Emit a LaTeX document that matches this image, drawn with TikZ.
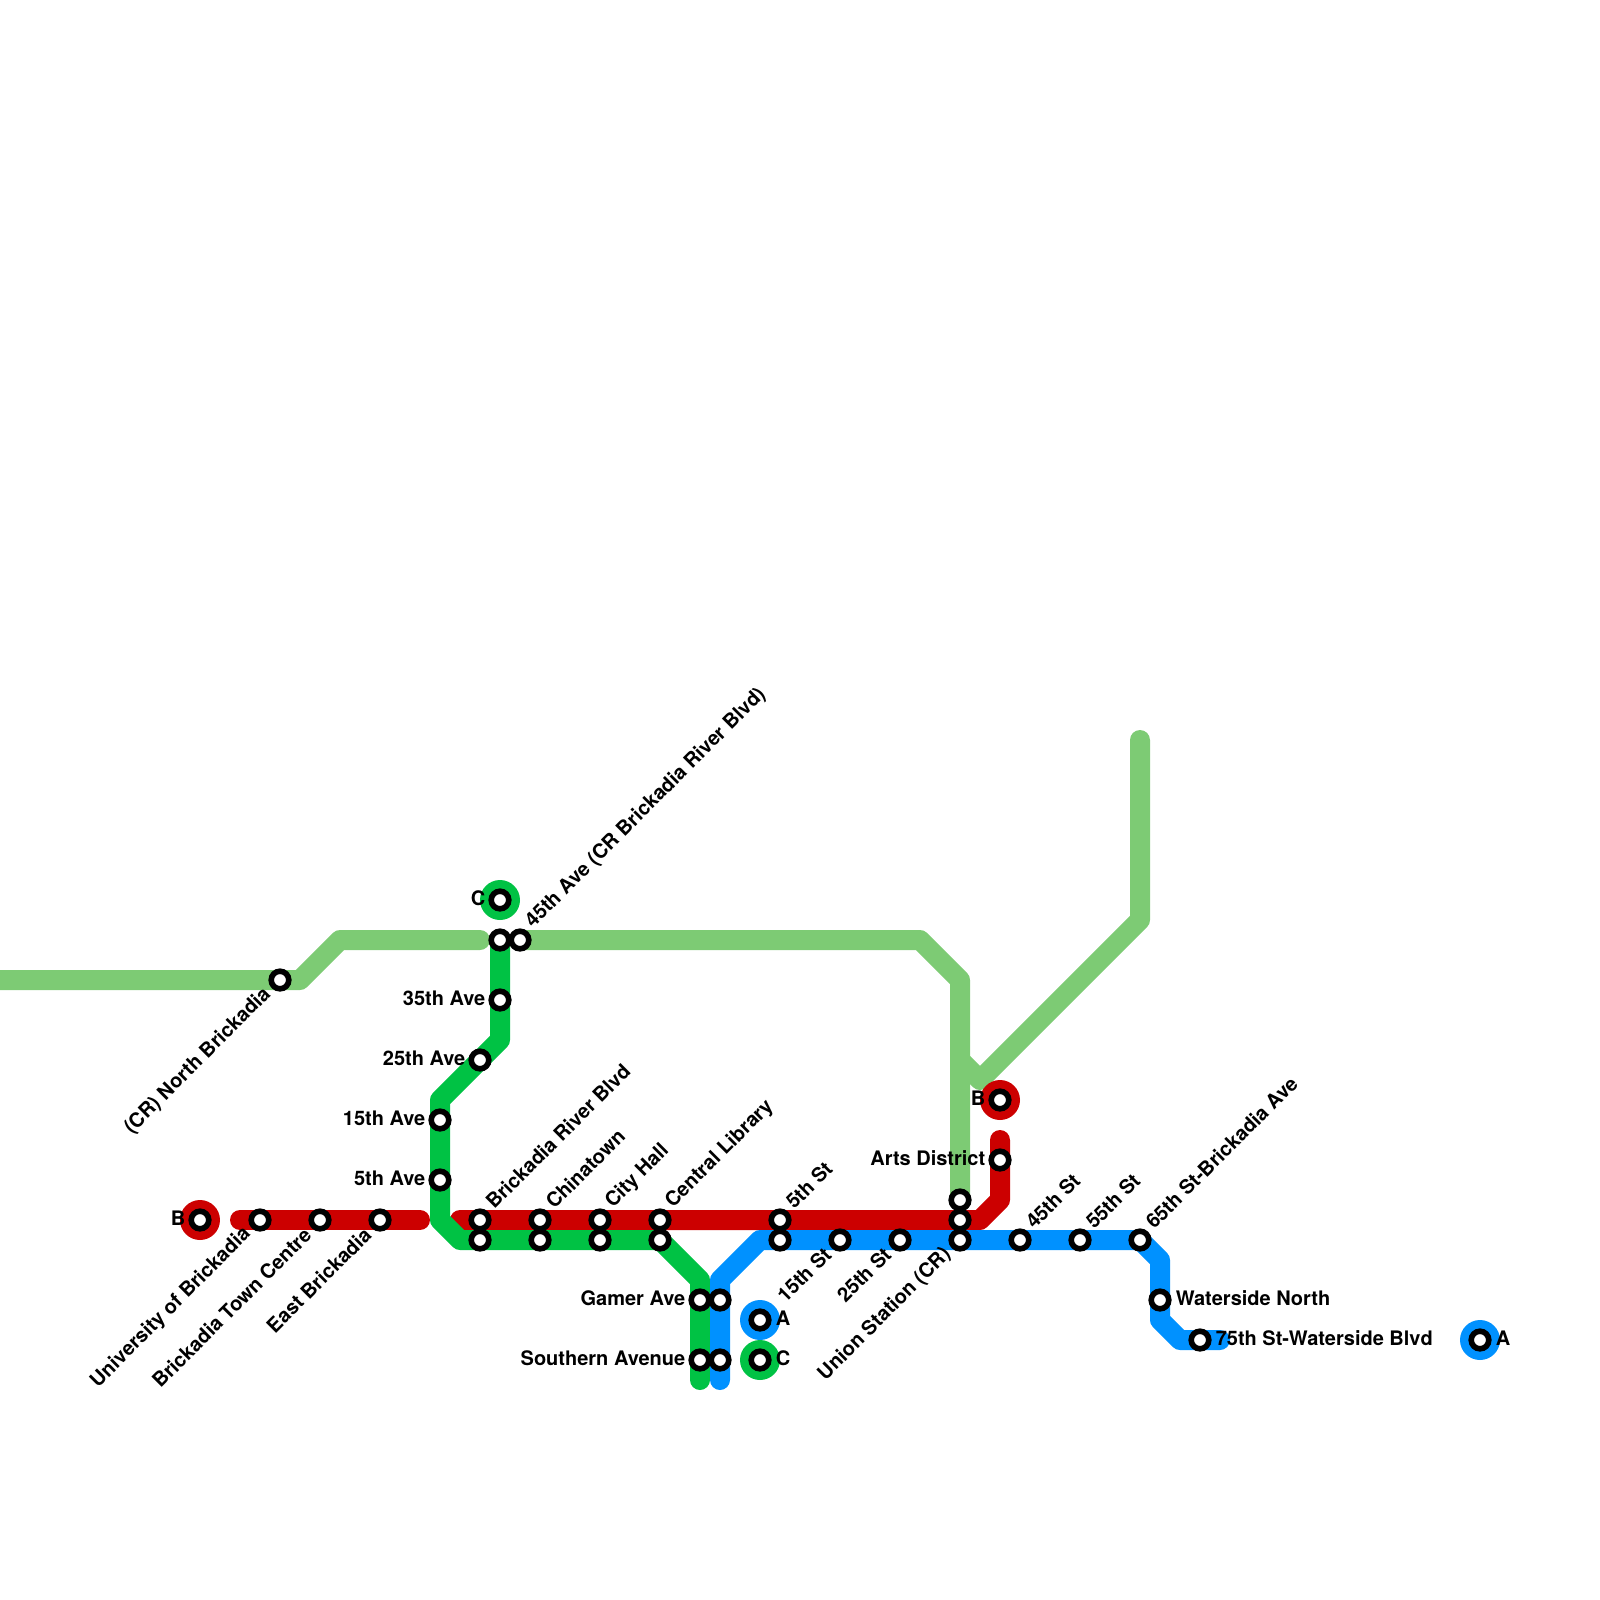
\documentclass[tikz,border=0pt]{standalone}
\usepackage{fontspec}
\setmainfont{TeX Gyre Heros}
\usetikzlibrary{positioning}
\definecolor{crgreen}{HTML}{7DCB74}
\definecolor{linered}{HTML}{CC0000}
\definecolor{linegreen}{HTML}{00C244}
\definecolor{lineblue}{HTML}{0091FF}

\begin{document}
\begin{tikzpicture}[
    x=0.2cm, y=-0.2cm,
    route/.style={line width=5.69pt, line cap=round, line join=round},
    stn/.style={circle, draw=black, fill=white, line width=1.6pt, minimum size=5pt, inner sep=0pt},
    term/.style={circle, minimum size=11.38pt, inner sep=0pt},
    lbl/.style={font=\bfseries\fontsize{5.69}{7}\selectfont, inner sep=0pt, text=black},
    lblleft/.style={lbl, anchor=east, xshift=-4pt, yshift=0.4pt},
    lblright/.style={lbl, anchor=west, xshift=4.3pt, yshift=0.4pt},
    lblne/.style={lbl, anchor=west, xshift=2.5pt, yshift=4.2pt, rotate=45},
    lblsw/.style={lbl, anchor=east, xshift=-3.4pt, yshift=-3.1pt, rotate=45}
]
\useasboundingbox (0,0) rectangle (80,80);

% Commuter rail
\coordinate (cA) at (0,49);
\coordinate (cB) at (15,49);
\coordinate (cC) at (17,47);
\coordinate (cD) at (24,47);
\coordinate (cE) at (26,47);
\coordinate (cF) at (46,47);
\coordinate (cG) at (48,49);
\coordinate (cH) at (48,60);
\coordinate (cI) at (48,53);
\coordinate (cJ) at (49,54);
\coordinate (cK) at (57,46);
\coordinate (cL) at (57,37);
\draw[route, crgreen] (cA) -- (cB) -- (cC) -- (cD);
\draw[route, crgreen] (cE) -- (cF) -- (cG) -- (cH);
\draw[route, crgreen] (cI) -- (cJ) -- (cK) -- (cL);

% Line B
\coordinate (rA) at (12,61);
\coordinate (rB) at (21,61);
\coordinate (rC) at (23,61);
\coordinate (rD) at (49,61);
\coordinate (rE) at (50,60);
\coordinate (rF) at (50,57);
\draw[route, linered] (rA) -- (rB);
\draw[route, linered] (rC) -- (rD) -- (rE) -- (rF);

% Line C
\coordinate (gA) at (25,47);
\coordinate (gB) at (25,52);
\coordinate (gC) at (22,55);
\coordinate (gD) at (22,61);
\coordinate (gE) at (23,62);
\coordinate (gF) at (33,62);
\coordinate (gG) at (35,64);
\coordinate (gH) at (35,69);
\draw[route, linegreen] (gA) -- (gB) -- (gC) -- (gD) -- (gE) -- (gF) -- (gG) -- (gH);

% Line A
\coordinate (bA) at (36,69);
\coordinate (bB) at (36,64);
\coordinate (bC) at (38,62);
\coordinate (bD) at (57,62);
\coordinate (bE) at (58,63);
\coordinate (bF) at (58,66);
\coordinate (bG) at (59,67);
\coordinate (bH) at (61,67);
\draw[route, lineblue] (bA) -- (bB) -- (bC) -- (bD) -- (bE) -- (bF) -- (bG) -- (bH);

% Terminals
\node[term, fill=linered] (termBa) at (10,61) {};
\node[term, fill=linered] (termBb) at (50,55) {};
\node[term, fill=linegreen] (termCa) at (25,45) {};
\node[term, fill=linegreen] (termCb) at (38,68) {};
\node[term, fill=lineblue] (termAa) at (38,66) {};
\node[term, fill=lineblue] (termAb) at (74,67) {};
\node[stn] (sBa) at (termBa) {};
\node[stn] (sBb) at (termBb) {};
\node[stn] (sCa) at (termCa) {};
\node[stn] (sCb) at (termCb) {};
\node[stn] (sAa) at (termAa) {};
\node[stn] (sAb) at (termAb) {};
\node[lblleft] (tBa) at (sBa) {B};
\node[lblleft] (tBb) at (sBb) {B};
\node[lblleft] (tCa) at (sCa) {C};
\node[lblright] (tCb) at (sCb) {C};
\node[lblright] (tAa) at (sAa) {A};
\node[lblright] (tAb) at (sAb) {A};

% Stations
\node[stn] (north) at (14,49) {};
\node[stn] (uni) at (13,61) {};
\node[stn] (town) at (16,61) {};
\node[stn] (east) at (19,61) {};
\node[stn] (river) at (24,61) {};
\node[stn] (riverC) at (24,62) {};
\node[stn] (china) at (27,61) {};
\node[stn] (chinaC) at (27,62) {};
\node[stn] (hall) at (30,61) {};
\node[stn] (hallC) at (30,62) {};
\node[stn] (library) at (33,61) {};
\node[stn] (libraryC) at (33,62) {};
\node[stn] (st5) at (39,61) {};
\node[stn] (st5A) at (39,62) {};
\node[stn] (st15) at (42,62) {};
\node[stn] (st25) at (45,62) {};
\node[stn] (unionT) at (48,60) {};
\node[stn] (unionB) at (48,61) {};
\node[stn] (union) at (48,62) {};
\node[stn] (st45) at (51,62) {};
\node[stn] (st55) at (54,62) {};
\node[stn] (st65) at (57,62) {};
\node[stn] (arts) at (50,58) {};
\node[stn] (north45) at (25,47) {};
\node[stn] (cr45) at (26,47) {};
\node[stn] (ave35) at (25,50) {};
\node[stn] (ave25) at (24,53) {};
\node[stn] (ave15) at (22,56) {};
\node[stn] (ave5) at (22,59) {};
\node[stn] (gamer) at (35,65) {};
\node[stn] (gamerA) at (36,65) {};
\node[stn] (southern) at (35,68) {};
\node[stn] (southernA) at (36,68) {};
\node[stn] (waterside) at (58,65) {};
\node[stn] (st75) at (60,67) {};

% Labels
\node[lblsw] (tNorth) at (north) {(CR) North Brickadia};
\node[lblsw] (tUni) at (uni) {University of Brickadia};
\node[lblsw] (tTown) at (town) {Brickadia Town Centre};
\node[lblsw] (tEast) at (east) {East Brickadia};
\node[lblsw] (t15) at (st15) {15th St};
\node[lblsw] (t25) at (st25) {25th St};
\node[lblsw] (tUnion) at (union) {Union Station (CR)};
\node[lblne] (tRiver) at (river) {Brickadia River Blvd};
\node[lblne] (tChina) at (china) {Chinatown};
\node[lblne] (tHall) at (hall) {City Hall};
\node[lblne] (tLibrary) at (library) {Central Library};
\node[lblne] (t5) at (st5) {5th St};
\node[lblne] (t45) at (st45) {45th St};
\node[lblne] (t55) at (st55) {55th St};
\node[lblne] (t65) at (st65) {65th St-Brickadia Ave};
\node[lblne] (tCr45) at (cr45) {45th Ave (CR Brickadia River Blvd)};
\node[lblleft] (tA35) at (ave35) {35th Ave};
\node[lblleft] (tA25) at (ave25) {25th Ave};
\node[lblleft] (tA15) at (ave15) {15th Ave};
\node[lblleft] (tA5) at (ave5) {5th Ave};
\node[lblleft] (tArts) at (arts) {Arts District};
\node[lblleft] (tGamer) at (gamer) {Gamer Ave};
\node[lblleft] (tSouthern) at (southern) {Southern Avenue};
\node[lblright] (tWaterside) at (waterside) {Waterside North};
\node[lblright] (t75) at (st75) {75th St-Waterside Blvd};
\end{tikzpicture}
\end{document}
